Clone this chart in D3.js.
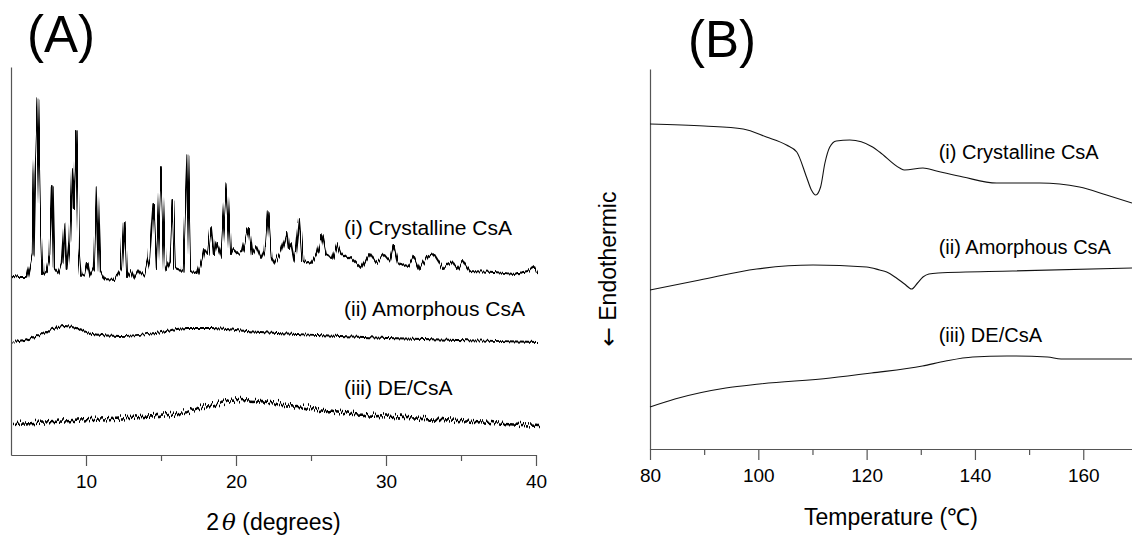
<!DOCTYPE html>
<html>
<head>
<meta charset="utf-8">
<script src="https://cdn.jsdelivr.net/npm/d3@7"></script>
<style>
  body { margin: 0; background: #fff; }
  svg text { font-family: Arial, "Liberation Sans", sans-serif; fill: #000; }
</style>
</head>
<body>
<div id="container"></div>
<script>
// ---- panel A : XRD, [2theta, intensity (a.u., offset)] ----
const xrdCrystalline = [[5.05,180],[5.5,179],[6.0,179],[6.38,202],[6.49,282],[6.69,357],[6.89,235],[7.04,182],[7.27,185],[7.49,202],[7.65,269],[7.78,188],[8.05,183],[8.31,193],[8.49,233],[8.64,187],[8.82,215],[9.0,287],[9.11,248],[9.25,325],[9.42,208],[9.6,180],[9.82,182],[9.98,193],[10.15,180],[10.45,188],[10.65,269],[10.85,185],[11.15,177],[11.82,176],[12.27,188],[12.45,234],[12.62,178],[12.93,186],[13.15,178],[13.49,186],[13.82,180],[14.15,198],[14.42,252],[14.65,188],[14.93,288],[15.2,185],[15.49,195],[15.69,256],[15.87,188],[16.38,185],[16.69,301],[16.89,185],[17.38,183],[17.67,198],[17.8,207],[18.05,202],[18.27,228],[18.45,202],[18.62,214],[18.93,198],[19.29,273],[19.55,202],[19.73,207],[20.05,202],[20.38,205],[20.75,228],[20.98,202],[21.27,210],[21.6,198],[21.82,205],[22.05,244],[22.31,198],[22.49,193],[22.93,205],[23.31,223],[23.44,208],[23.6,212],[23.82,195],[24.13,238],[24.38,195],[24.93,193],[25.38,205],[25.65,221],[25.93,202],[26.38,198],[26.67,212],[26.93,202],[27.6,198],[28.27,188],[28.8,203],[29.27,193],[29.78,202],[30.16,195],[30.42,211],[30.71,193],[31.38,190],[31.78,200],[32.16,187],[32.71,200],[33.13,202],[33.71,188],[34.31,195],[34.71,187],[35.05,195],[35.49,185],[37.15,184],[38.49,182],[39.38,185],[39.8,190],[40.0,183]]
const xrdAmorphous = [[5.1,114],[6.5,119],[7.5,126],[8.47,130],[9.5,127],[10.33,122],[12.2,120],[14.53,123],[16.67,128],[18.27,128],[20.63,125],[25.3,121],[29.99,118],[34.67,116],[40.0,114]]
const xrdDE = [[5.1,34],[8.93,37],[13.6,41],[15.96,44],[18.3,53],[20.17,58],[22.04,55],[25.31,48],[27.64,44],[31.16,40],[34.67,37],[40.0,32]]
const xrdLabels = ["(i) Crystalline CsA", "(ii) Amorphous CsA", "(iii) DE/CsA"]
const xrdLabelY = [220, 139, 60]
const xrdMajor = [10, 20, 30, 40]
const xrdMinor = [15, 25, 35]

// ---- panel B : DSC, [temperature C, heat flow (a.u., offset)] ----
const dscCrystalline = [[80,325],[90,323],[97.2,320],[101.5,312],[105.2,304],[107.1,297],[108.9,272],[109.8,259],[110.6,254],[111.5,262],[112.3,286],[113.2,302],[114.4,308],[116.9,309],[121.1,302],[122.4,297],[126.1,281],[127,279],[130.4,281],[132.9,278],[137.8,272],[144,266],[152,266],[159.3,262],[164.3,254],[169,246]]
const dscAmorphous = [[80,159],[89.2,169],[99.7,180],[110.1,184],[120,182],[122.4,179],[123.7,177],[125.5,171],[127,165],[128.3,160],[129.4,166],[130.4,172],[131.5,175],[133.2,176],[147,178],[169,181]]
const dscDE = [[80,42],[84.6,50],[94,61],[100.2,65],[113.3,71],[120.9,76],[130.3,83],[134.6,88],[139.6,92],[145.9,93],[153.4,92],[155.9,90],[169,90]]
const dscLabels = ["(i) Crystalline CsA", "(ii) Amorphous CsA", "(iii) DE/CsA"]
const dscLabelY = [290, 195, 107]
const dscMajor = [80, 100, 120, 140, 160]
const dscMinor = [90, 110, 130, 150]

const width = 1132, height = 539
const svg = d3.select("#container").append("svg")
              .attr("width", width)
              .attr("height", height)

// rough trace look for the diffractograms (jitter varies along x only)
const defs = svg.append("defs")
function noiseFilter(id, freq, scale) {
    const f = defs.append("filter").attr("id", id)
                  .attr("filterUnits", "userSpaceOnUse")
                  .attr("x", 0).attr("y", 0).attr("width", width).attr("height", height)
    f.append("feTurbulence").attr("type", "turbulence")
     .attr("baseFrequency", freq).attr("numOctaves", 2).attr("seed", 7).attr("result", "t")
    f.append("feDisplacementMap").attr("in", "SourceGraphic").attr("in2", "t")
     .attr("scale", scale).attr("xChannelSelector", "B").attr("yChannelSelector", "G")
}
noiseFilter("noiseA", "0.8 0.0001", 4)
noiseFilter("noiseB", "1.4 0.0001", 9)

function bottomAxis(g, scale, major, minor, majorLen, minorLen, fontSize) {
    g.append("g")
     .call(d3.axisBottom(scale).tickValues(minor).tickSize(minorLen).tickSizeOuter(0).tickFormat(""))
     .call(a => a.select(".domain").remove())
    const ax = g.append("g")
                .call(d3.axisBottom(scale).tickValues(major).tickSize(majorLen).tickSizeOuter(0).tickPadding(9))
    ax.selectAll("text").attr("font-size", fontSize).attr("font-family", "Arial, 'Liberation Sans', sans-serif")
    g.selectAll("line, path").attr("stroke", "#555").attr("stroke-width", 1.2)
}

// ================= panel A =================
const xA = d3.scaleLinear().domain([5, 40]).range([11, 536])
const yA = d3.scaleLinear().domain([0, 388]).range([455, 67])

svg.append("text").attr("x", 27).attr("y", 52).attr("font-size", 51).text("(A)")

const axA = svg.append("g").attr("transform", `translate(0, ${yA(0)})`)
bottomAxis(axA, xA, xrdMajor, xrdMinor, 11, 6, 19)
svg.append("g").attr("transform", `translate(${xA(5)}, 0)`)
   .call(d3.axisLeft(yA).tickValues([]).tickSizeOuter(0))
   .selectAll("path").attr("stroke", "#555").attr("stroke-width", 1.2)

const lineA = d3.line().x(d => xA(d[0])).y(d => yA(d[1]))
svg.append("path").datum(xrdCrystalline).attr("d", lineA)
   .attr("fill", "none").attr("stroke", "#000").attr("stroke-width", 1.9)
   .attr("stroke-linejoin", "round").attr("filter", "url(#noiseA)")
svg.append("path").datum(xrdAmorphous).attr("d", lineA.curve(d3.curveMonotoneX))
   .attr("fill", "none").attr("stroke", "#000").attr("stroke-width", 1.9).attr("filter", "url(#noiseA)")
svg.append("path").datum(xrdDE).attr("d", lineA.curve(d3.curveMonotoneX))
   .attr("fill", "none").attr("stroke", "#000").attr("stroke-width", 2.6).attr("filter", "url(#noiseB)")

svg.selectAll(".labA").data(xrdLabels).join("text")
   .attr("class", "labA")
   .attr("x", xA(27.2))
   .attr("y", (d, i) => yA(xrdLabelY[i]))
   .attr("font-size", 21)
   .text(d => d)

const tA = svg.append("text").attr("x", xA(22.5)).attr("y", 530)
              .attr("text-anchor", "middle").attr("font-size", 23)
tA.append("tspan").text("2")
tA.append("tspan").attr("font-family", "'DejaVu Serif', 'Liberation Serif', serif")
  .attr("font-style", "italic").attr("dx", 3).text("θ")
tA.append("tspan").text(" (degrees)")

// ================= panel B =================
const xB = d3.scaleLinear().domain([80, 169]).range([650, 1132])
const yB = d3.scaleLinear().domain([0, 380]).range([449, 69])

svg.append("text").attr("x", 688).attr("y", 57).attr("font-size", 51).text("(B)")

const axB = svg.append("g").attr("transform", `translate(0, ${yB(0)})`)
bottomAxis(axB, xB, dscMajor, dscMinor, 11, 6, 19)
svg.append("g").attr("transform", `translate(${xB(80)}, 0)`)
   .call(d3.axisLeft(yB).tickValues([]).tickSizeOuter(0))
   .selectAll("path").attr("stroke", "#555").attr("stroke-width", 1.2)

const lineB = d3.line().curve(d3.curveMonotoneX).x(d => xB(d[0])).y(d => yB(d[1]))
;[dscCrystalline, dscAmorphous, dscDE].forEach(s => {
    svg.append("path").datum(s).attr("d", lineB)
       .attr("fill", "none").attr("stroke", "#111").attr("stroke-width", 1.1)
})

svg.selectAll(".labB").data(dscLabels).join("text")
   .attr("class", "labB")
   .attr("x", xB(133.3))
   .attr("y", (d, i) => yB(dscLabelY[i]))
   .attr("font-size", 20)
   .text(d => d)

svg.append("text").attr("x", xB(124.5)).attr("y", 525)
   .attr("text-anchor", "middle").attr("font-size", 23)
   .text("Temperature (℃)")

const endo = svg.append("text")
   .attr("transform", `translate(616, 269) rotate(-90)`)
   .attr("text-anchor", "middle").attr("font-size", 23)
endo.append("tspan").attr("font-family", "'DejaVu Sans', sans-serif").text("←")
endo.append("tspan").text(" Endothermic")
</script>
</body>
</html>
